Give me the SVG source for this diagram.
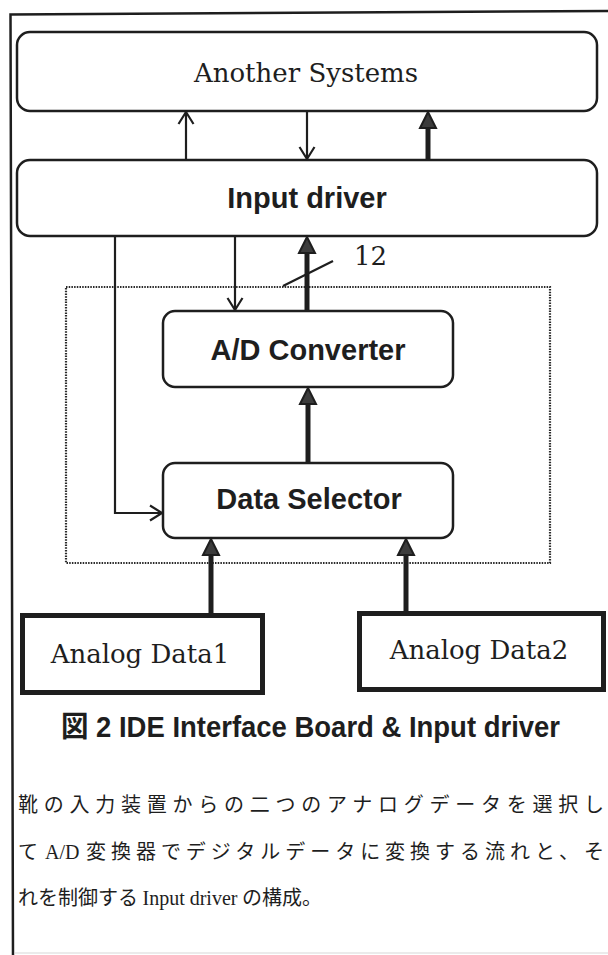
<svg xmlns="http://www.w3.org/2000/svg" width="608" height="955" viewBox="0 0 608 955">
  <style>
    .box { fill: #fff; stroke: #1e1e1e; stroke-width: 2.5; }
    .src { fill: #fff; stroke: #1e1e1e; stroke-width: 5; }
    .serif { font-family: "DejaVu Serif", "Liberation Serif", serif; fill: #1e1e1e; }
    .bold { font-family: "Liberation Sans", Arial, "Noto Sans CJK JP", sans-serif; font-weight: bold; fill: #1e1e1e; }
    .thin { fill: none; stroke: #1e1e1e; stroke-width: 2.2; }
    .thick { fill: none; stroke: #1e1e1e; stroke-width: 5; }
    .jp { font-family: "Noto Sans CJK JP", "Noto Sans CJK SC", sans-serif; font-size: 20px; fill: #1e1e1e; }
    .jpl { font-family: "Liberation Serif", "DejaVu Serif", serif; font-size: 20px; fill: #1e1e1e; }
  </style>
  <defs>
    <marker id="open" viewBox="0 0 13 16" refX="12.5" refY="8" markerWidth="13" markerHeight="16" markerUnits="userSpaceOnUse" orient="auto" overflow="visible">
      <path d="M0.5,0.5 L12.5,8 L0.5,15.5" fill="none" stroke="#1e1e1e" stroke-width="2.2"/>
    </marker>
    <marker id="solid" viewBox="0 0 16 17" refX="0" refY="8.5" markerWidth="16" markerHeight="17" markerUnits="userSpaceOnUse" orient="auto" overflow="visible">
      <path d="M0,0.5 L16,8.5 L0,16.5 Z" fill="#3c3c3c" stroke="#1e1e1e" stroke-width="2" stroke-linejoin="miter"/>
    </marker>
  </defs>

  <rect width="608" height="955" fill="#fff"/>

  <!-- page frame -->
  <g id="frame" fill="none" stroke="#1e1e1e">
    <path d="M13,955 L10.5,14.5 L608,11" stroke-width="2.5"/>
    <line x1="15" y1="953" x2="608" y2="953" stroke="#e4e4e4" stroke-width="1.5"/>
  </g>

  <!-- interface board boundary -->
  <rect id="board" x="66" y="287" width="484" height="276" fill="none" stroke="#2a2a2a" stroke-width="2.2" stroke-dasharray="1.5 1.2"/>

  <g id="another-systems">
    <rect class="box" x="17" y="32" width="580" height="79" rx="13"/>
    <text class="serif" x="306" y="82" font-size="26" text-anchor="middle">Another Systems</text>
  </g>

  <g id="input-driver">
    <rect class="box" x="17" y="160" width="580" height="76" rx="13"/>
    <text class="bold" x="307" y="208" font-size="29" text-anchor="middle">Input driver</text>
  </g>

  <g id="ad-converter">
    <rect class="box" x="163" y="311" width="290" height="76" rx="12"/>
    <text class="bold" x="308" y="360" font-size="29" text-anchor="middle">A/D Converter</text>
  </g>

  <g id="data-selector">
    <rect class="box" x="163" y="463" width="290" height="75" rx="12"/>
    <text class="bold" x="309" y="509" font-size="29" text-anchor="middle">Data Selector</text>
  </g>

  <g id="analog-data1">
    <rect class="src" x="22.5" y="615.5" width="240" height="77"/>
    <text class="serif" x="140" y="663" font-size="26" text-anchor="middle">Analog Data1</text>
  </g>

  <g id="analog-data2">
    <rect class="src" x="359.5" y="613.5" width="244" height="76"/>
    <text class="serif" x="479" y="659" font-size="26" text-anchor="middle">Analog Data2</text>
  </g>

  <g id="connectors">
    <!-- Input driver <-> Another Systems -->
    <path class="thin" d="M186,160 L186,112" marker-end="url(#open)"/>
    <path class="thin" d="M307,111 L307,159" marker-end="url(#open)"/>
    <path class="thick" d="M428,160 L428,128" marker-end="url(#solid)"/>
    <!-- Input driver <-> A/D Converter -->
    <path class="thin" d="M235,236 L235,310" marker-end="url(#open)"/>
    <path class="thick" d="M307,311 L307,253" marker-end="url(#solid)"/>
    <!-- 12-bit bus mark -->
    <line x1="283" y1="286" x2="333" y2="261" stroke="#1e1e1e" stroke-width="2.2"/>
    <text class="serif" x="354" y="265" font-size="26">12</text>
    <!-- select control -->
    <path class="thin" d="M115,236 L115,513 L162,513" marker-end="url(#open)"/>
    <!-- Data Selector -> A/D Converter -->
    <path class="thick" d="M308,463 L308,404" marker-end="url(#solid)"/>
    <!-- analog inputs -->
    <path class="thick" d="M211,613 L211,555" marker-end="url(#solid)"/>
    <path class="thick" d="M406,611 L406,555" marker-end="url(#solid)"/>
  </g>

  <g id="caption">
    <text class="bold" x="61" y="737" font-size="29" textLength="499" lengthAdjust="spacingAndGlyphs">図 2 IDE Interface Board &amp; Input driver</text>
  </g>

  <g id="description">
    <text class="jp" x="18" y="812" textLength="586" lengthAdjust="spacing">靴の入力装置からの二つのアナログデータを選択し</text>
    <text class="jp" x="18" y="859">て</text>
    <text class="jpl" x="45" y="859">A/D</text>
    <text class="jp" x="86" y="859" textLength="518" lengthAdjust="spacing">変換器でデジタルデータに変換する流れと、そ</text>
    <text class="jp" x="18" y="905">れを制御する <tspan class="jpl">Input driver</tspan> の構成。</text>
  </g>
</svg>
